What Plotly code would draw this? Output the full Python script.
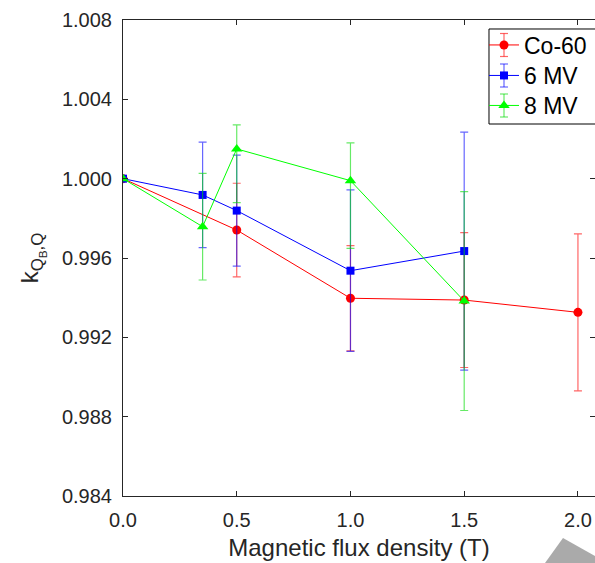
import plotly.graph_objects as go

# Data
x_co = [0.0, 0.5, 1.0, 1.5, 2.0]
k_co = [1.0000, 0.99741, 0.99397, 0.99388, 0.99326]
e_co = [0.0, 0.00236, 0.00265, 0.00340, 0.00396]

x_6 = [0.0, 0.35, 0.5, 1.0, 1.5]
k_6 = [1.0000, 0.99918, 0.99839, 0.99536, 0.99635]
e_6 = [0.0, 0.00266, 0.00280, 0.00407, 0.00600]

x_8 = [0.0, 0.35, 0.5, 1.0, 1.5]
k_8 = [1.0000, 0.99758, 1.00150, 0.99990, 0.99383]
e_8_minus = [0.0, 0.00269, 0.00271, 0.00341, 0.00552]
e_8_plus = [0.0, 0.00269, 0.00121, 0.00190, 0.00552]

series_names = ["Co-60", "6 MV", "8 MV"]
x_ticks = [0.0, 0.5, 1.0, 1.5, 2.0]
y_ticks = [0.984, 0.988, 0.992, 0.996, 1.000, 1.004, 1.008]

font_family = "Liberation Sans, Arial, sans-serif"
axis_color = "rgb(38,38,38)"
colors = ["#ff0000", "#0000ff", "#00ff00"]
err_colors = ["rgba(255,0,0,0.6)", "rgba(0,0,255,0.6)", "rgba(0,220,0,0.6)"]

W, H = 595, 563
L, T, R, B = 123, 20, 0, 67
pw, ph = W - L - R, H - T - B

def px(xp):
    return (xp - L) / pw

def py(yp):
    return (H - B - yp) / ph

fig = go.Figure()

fig.add_trace(go.Scatter(
    x=x_co, y=k_co, name=series_names[0], mode="lines+markers", legend="legend",
    line=dict(color=colors[0], width=1),
    marker=dict(symbol="circle", size=9, color=colors[0]),
    error_y=dict(type="data", array=e_co, symmetric=True,
                 color=err_colors[0], thickness=1.2, width=4),
))
fig.add_trace(go.Scatter(
    x=x_6, y=k_6, name=series_names[1], mode="lines+markers", legend="legend2",
    line=dict(color=colors[1], width=1),
    marker=dict(symbol="square", size=8, color=colors[1]),
    error_y=dict(type="data", array=e_6, symmetric=True,
                 color=err_colors[1], thickness=1.2, width=4),
))
fig.add_trace(go.Scatter(
    x=x_8, y=k_8, name=series_names[2], mode="lines+markers", legend="legend3",
    line=dict(color=colors[2], width=1),
    marker=dict(symbol="triangle-up", size=10, color=colors[2]),
    error_y=dict(type="data", array=e_8_plus, arrayminus=e_8_minus, symmetric=False,
                 color=err_colors[2], thickness=1.2, width=4),
))

# legend layout (page pixels)
leg_left = 484
leg_rows = [45, 75.5, 105.5]
sym_x = leg_left + 20

def legend_cfg(yc):
    return dict(x=px(leg_left), y=py(yc), xanchor="left", yanchor="middle",
                bgcolor="rgba(0,0,0,0)", borderwidth=0,
                font=dict(size=23, color="black"), itemwidth=30)

tri = "M {:.4f},{:.4f} L {:.4f},{:.4f} L {:.4f},{:.4f} L {:.4f},{:.4f} Z".format(
    px(545), py(563), px(563), py(538), px(595), py(556), px(595), py(563))

# legend frame: open on the right (cut off by the page edge in the reference)
box = "M {:.4f},{:.4f} L {:.4f},{:.4f} L {:.4f},{:.4f} L {:.4f},{:.4f}".format(
    px(640), py(29), px(489), py(29), px(489), py(124), px(640), py(124))

shapes = [
    dict(type="path", path=box, xref="paper", yref="paper",
         fillcolor="white", line=dict(color="black", width=1), layer="above"),
]
for yc, ec in zip(leg_rows, err_colors):
    shapes.append(dict(type="line", xref="paper", yref="paper",
                       x0=px(sym_x), x1=px(sym_x), y0=py(yc + 11.5), y1=py(yc - 11.5),
                       line=dict(color=ec, width=1.2), layer="above"))
    for yy in (yc - 11.5, yc + 11.5):
        shapes.append(dict(type="line", xref="paper", yref="paper",
                           x0=px(sym_x - 4), x1=px(sym_x + 4), y0=py(yy), y1=py(yy),
                           line=dict(color=ec, width=1.2), layer="above"))
shapes.append(dict(type="path", path=tri, xref="paper", yref="paper",
                   fillcolor="#aaaaaa", line=dict(width=0), layer="above"))

fig.update_layout(
    width=W, height=H,
    margin=dict(l=L, r=R, t=T, b=B, pad=0, autoexpand=False),
    paper_bgcolor="white", plot_bgcolor="white",
    font=dict(family=font_family, size=20, color=axis_color),
    showlegend=True,
    legend=legend_cfg(leg_rows[0]),
    legend2=legend_cfg(leg_rows[1]),
    legend3=legend_cfg(leg_rows[2]),
    xaxis=dict(range=[0, 2.075], tickvals=x_ticks, tickformat=".1f",
               ticks="inside", ticklen=5, tickcolor=axis_color,
               showline=True, linecolor=axis_color, linewidth=1, mirror="ticks",
               showgrid=False, zeroline=False, automargin=False,
               ticklabelstandoff=6,
               title=dict(text="Magnetic flux density (T)", font=dict(size=24, color=axis_color), standoff=9),
               tickfont=dict(size=20, color=axis_color)),
    yaxis=dict(range=[0.984, 1.008], tickvals=y_ticks, tickformat=".3f",
               ticks="inside", ticklen=5, tickcolor=axis_color,
               showline=True, linecolor=axis_color, linewidth=1, mirror="ticks",
               showgrid=False, zeroline=False, automargin=False,
               ticklabelstandoff=6,
               title=dict(text="k<sub>Q<sub>B</sub>,Q</sub>", font=dict(size=24, color=axis_color), standoff=16),
               tickfont=dict(size=20, color=axis_color)),
    shapes=shapes,
)

fig.write_html("out.html", config={"displayModeBar": False},
               post_script="document.body.style.margin='0px';")
